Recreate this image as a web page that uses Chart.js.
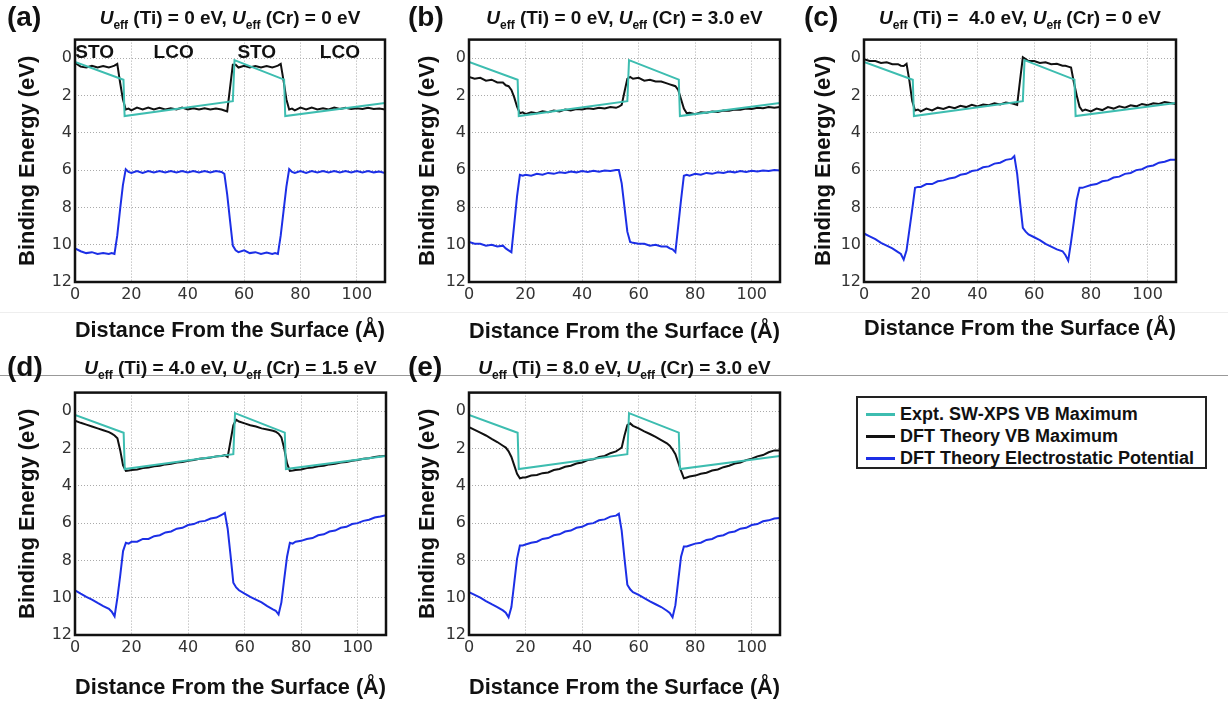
<!DOCTYPE html>
<html>
<head>
<meta charset="utf-8">
<script src="https://cdn.jsdelivr.net/npm/chart.js@4.4.0/dist/chart.umd.min.js"></script>
<style>
  body { margin: 0; background: #fff; }
  #fig { position: relative; width: 1228px; height: 706px; overflow: hidden; font-family: 'Liberation Sans', Arial, sans-serif; color: #111; }
  .title { position: absolute; text-align: center; font-weight: bold; font-size: 19px; line-height: 22px; white-space: nowrap; }
  .title sub { font-size: 12px; vertical-align: baseline; position: relative; top: 5px; }
  .letter { position: absolute; font-weight: bold; font-size: 28px; line-height: 32px; }
  .rule { position: absolute; left: 0; width: 1228px; height: 1px; }
  #legend { position: absolute; left: 856px; top: 396px; width: 351px; height: 73px; border: 2px solid #222; box-sizing: border-box; }
  .row { position: absolute; left: 0; height: 22px; line-height: 22px; font-weight: bold; font-size: 18px; white-space: nowrap; }
  .row span.sw { position: absolute; left: 8px; top: 10px; width: 29px; height: 3px; }
  .row span.tx { position: absolute; left: 42px; top: 0; }
</style>
</head>
<body>
<div id="fig">
  <div class="rule" style="top:312px;background:#eee"></div>
  <div class="rule" style="top:375px;background:#999"></div>
  <div id="legend"></div>
</div>
<script>
// x grid (Å) shared by the DFT curves
const xDft = [0, 2, 4, 6, 8, 10, 12,
  13, 14, 15, 16, 17, 18, 19,
  20, 22, 24, 26, 28, 30, 32, 34, 36, 38, 40, 42, 44, 46, 48, 50, 52,
  53, 54, 55, 56, 57,
  58, 60, 62, 64, 66, 68, 70,
  71, 72, 73, 74, 75, 76, 77,
  78, 80, 82, 84, 86, 88, 90, 92, 94, 96, 98, 100, 102, 104, 106, 108, 110];

// experimental SW-XPS VB maximum (same in every panel)
const expX = [0, 17.2, 17.6, 56, 56.6, 74.2, 74.6, 110];
const expY = [0.2, 1.15, 3.1, 2.3, 0.1, 1.15, 3.1, 2.4];

// (a) Ti 0 / Cr 0
const vbA = [0.25, 0.45, 0.5, 0.4, 0.5, 0.42, 0.5,
  0.45, 0.4, 0.3, 1.3, 2.2, 2.75, 2.7,
  2.8, 2.65, 2.75, 2.65, 2.75, 2.66, 2.75, 2.68, 2.75, 2.65, 2.75, 2.68, 2.75, 2.68, 2.75, 2.7, 2.75,
  2.8, 2.85, 1.6, 0.35, 0.35,
  0.5, 0.4, 0.5, 0.42, 0.5, 0.42, 0.5,
  0.45, 0.4, 0.3, 1.2, 2.2, 2.75, 2.7,
  2.8, 2.65, 2.75, 2.65, 2.75, 2.68, 2.75, 2.65, 2.72, 2.65, 2.72, 2.68, 2.72, 2.66, 2.72, 2.7, 2.75];
const potA = [10.2, 10.35, 10.45, 10.4, 10.5, 10.45, 10.5,
  10.45, 10.5, 9.5, 8.1, 6.8, 5.95, 6.1,
  6.15, 6.05, 6.15, 6.05, 6.12, 6.05, 6.12, 6.05, 6.12, 6.05, 6.12, 6.05, 6.12, 6.05, 6.12, 6.05, 6.1,
  6.2, 7.3, 8.7, 10.05, 10.3,
  10.4, 10.3, 10.45, 10.4, 10.5, 10.42, 10.5,
  10.45, 10.5, 9.5, 8.2, 6.9, 5.95, 6.1,
  6.15, 6.05, 6.15, 6.05, 6.12, 6.05, 6.12, 6.05, 6.12, 6.05, 6.12, 6.05, 6.12, 6.05, 6.12, 6.08, 6.15];

// (b) Ti 0 / Cr 3.0
const vbB = [1.0, 1.1, 1.05, 1.2, 1.15, 1.3, 1.3,
  1.45, 1.5, 1.7, 2.1, 2.6, 2.95, 2.9,
  3.0, 2.9, 2.95, 2.85, 2.9, 2.8, 2.85, 2.75, 2.8, 2.72, 2.75, 2.68, 2.72, 2.65, 2.7, 2.62, 2.66,
  2.6, 2.5, 1.8, 1.1, 1.0,
  1.1, 1.05, 1.2, 1.15, 1.25, 1.25, 1.35,
  1.4, 1.45, 1.5, 1.7, 2.2, 2.7, 2.95,
  2.92, 3.0, 2.9, 2.92, 2.85, 2.88, 2.8, 2.82, 2.75, 2.76, 2.7, 2.72, 2.65, 2.68, 2.62, 2.66, 2.62];
const potB = [9.85, 9.95, 9.95, 10.05, 10.0, 10.1, 10.05,
  10.2, 10.3, 10.4, 8.9, 7.4, 6.25, 6.3,
  6.25, 6.3, 6.2, 6.25, 6.15, 6.2, 6.12, 6.15, 6.08, 6.12, 6.05, 6.1, 6.03, 6.08, 6.02, 6.05, 6.0,
  6.0, 6.7, 8.0, 9.3, 9.85,
  9.9, 9.95, 9.95, 10.05, 10.0, 10.1, 10.1,
  10.2, 10.25, 10.4, 9.0, 7.6, 6.3, 6.25,
  6.3, 6.2, 6.25, 6.15, 6.2, 6.12, 6.15, 6.08, 6.12, 6.05, 6.1, 6.03, 6.07, 6.02, 6.05, 6.0, 6.02];

// (c) Ti 4.0 / Cr 0
const vbC = [0.05, 0.15, 0.15, 0.25, 0.22, 0.32, 0.32,
  0.4, 0.42, 0.3, 1.2, 2.3, 2.8, 2.75,
  2.85, 2.7, 2.8, 2.65, 2.72, 2.6, 2.68, 2.55, 2.62, 2.5, 2.58, 2.48, 2.52, 2.42, 2.48, 2.38, 2.42,
  2.45, 2.5, 1.2, -0.05, 0.05,
  0.15, 0.15, 0.25, 0.22, 0.32, 0.3, 0.4,
  0.4, 0.45, 0.5, 1.3, 2.0, 2.6, 2.82,
  2.75, 2.85, 2.7, 2.78, 2.62, 2.7, 2.58, 2.65, 2.52, 2.58, 2.45, 2.52, 2.42, 2.45, 2.35, 2.4, 2.45];
const potC = [9.4, 9.55, 9.7, 9.9, 10.05, 10.2, 10.4,
  10.5, 10.8, 10.3, 9.2, 8.1, 6.95, 6.9,
  6.9, 6.75, 6.75, 6.6, 6.55, 6.45, 6.4, 6.25, 6.2, 6.05, 6.0, 5.85, 5.8, 5.65, 5.6, 5.45, 5.4,
  5.25, 6.2, 7.7, 9.1, 9.3,
  9.45, 9.6, 9.75, 9.95, 10.1, 10.25, 10.35,
  10.55, 10.85, 9.85, 8.75, 7.6, 6.95, 6.95,
  6.9, 6.8, 6.75, 6.6, 6.55, 6.4, 6.35, 6.2, 6.15, 6.0, 5.95, 5.8, 5.75, 5.6, 5.55, 5.45, 5.45];

// (d) Ti 4.0 / Cr 1.5
const vbD = [0.5, 0.62, 0.72, 0.82, 0.92, 1.02, 1.12,
  1.2, 1.3, 1.45, 2.1, 2.9, 3.2, 3.18,
  3.15, 3.12, 3.05, 3.02, 2.95, 2.92, 2.85, 2.82, 2.75, 2.72, 2.65, 2.62, 2.55, 2.52, 2.48, 2.42, 2.4,
  2.35, 2.45, 1.6, 0.75, 0.45,
  0.55, 0.65, 0.75, 0.82, 0.92, 0.98, 1.05,
  1.1, 1.2, 1.4, 2.0, 2.8, 3.2, 3.18,
  3.15, 3.12, 3.05, 3.02, 2.95, 2.92, 2.85, 2.82, 2.75, 2.72, 2.65, 2.62, 2.55, 2.52, 2.45, 2.42, 2.38];
const potD = [9.6, 9.78, 9.95, 10.1, 10.28, 10.45, 10.6,
  10.75, 11.0, 10.0, 8.8, 7.5, 7.05, 7.1,
  7.0, 7.0, 6.85, 6.85, 6.7, 6.65, 6.5, 6.45, 6.3, 6.25, 6.1, 6.05, 5.92, 5.88, 5.75, 5.7, 5.55,
  5.45, 6.3, 7.7, 9.2, 9.45,
  9.6, 9.78, 9.95, 10.1, 10.25, 10.45, 10.62,
  10.7, 10.9, 10.25, 9.0, 7.8, 7.05, 7.1,
  7.0, 6.95, 6.85, 6.8, 6.65, 6.6, 6.45, 6.4, 6.25, 6.2, 6.05, 6.0, 5.88, 5.82, 5.7, 5.65, 5.58];

// (e) Ti 8.0 / Cr 3.0
const vbE = [0.85, 1.0, 1.15, 1.3, 1.48, 1.65, 1.85,
  1.95, 2.15, 2.45, 2.9, 3.35, 3.6, 3.55,
  3.55, 3.45, 3.42, 3.32, 3.28, 3.15, 3.1, 2.98, 2.92, 2.8, 2.75, 2.62, 2.58, 2.45, 2.4, 2.25, 2.15,
  2.05, 1.95, 1.3, 0.75, 0.65,
  0.78, 0.92, 1.08, 1.22, 1.38, 1.55, 1.72,
  1.85, 2.05, 2.3, 2.75, 3.2, 3.6, 3.55,
  3.5, 3.45, 3.35, 3.3, 3.18, 3.12, 3.0, 2.92, 2.8, 2.75, 2.62, 2.55, 2.42, 2.35, 2.2, 2.1, 2.1];
const potE = [9.7, 9.85, 10.0, 10.18, 10.35, 10.5, 10.68,
  10.8, 11.05, 10.5, 9.2, 7.9, 7.2, 7.2,
  7.15, 7.05, 7.0, 6.85, 6.8, 6.65, 6.6, 6.45, 6.4, 6.25, 6.2, 6.05, 6.0, 5.85, 5.8, 5.65, 5.6,
  5.5, 6.4, 7.9, 9.3, 9.55,
  9.7, 9.85, 10.02, 10.2, 10.35, 10.5, 10.7,
  10.82, 11.05, 10.4, 9.1, 7.8, 7.25, 7.25,
  7.2, 7.1, 7.05, 6.9, 6.85, 6.7, 6.65, 6.5, 6.45, 6.3, 6.25, 6.1, 6.05, 5.9, 5.85, 5.75, 5.72];

const seriesNames = ['Expt. SW-XPS VB Maximum', 'DFT Theory VB Maximum', 'DFT Theory Electrostatic Potential'];
const layerNames = ['STO', 'LCO', 'STO', 'LCO'];
const layerX = [7, 35, 64.5, 94];

const TEAL = '#3dbdb0', BLACK = '#111111', BLUE = '#1c2fe6';
const colors = [TEAL, BLACK, BLUE];

const panels = [
  { tag: '(a)', ti: '0', cr: '0', vb: vbA, pot: potA, L: 75, T: 39, R: 385, B: 282, ytPad: 10, xtPad: 4, letterX: 7, layers: true },
  { tag: '(b)', ti: '0', cr: '3.0', vb: vbB, pot: potB, L: 469, T: 39, R: 780, B: 282, ytPad: 16, xtPad: 3, letterX: 408 },
  { tag: '(c)', ti: '&nbsp;4.0', cr: '0', vb: vbC, pot: potC, L: 864, T: 39, R: 1176, B: 282, ytPad: 17, xtPad: 6, letterX: 804 },
  { tag: '(d)', ti: '4.0', cr: '1.5', vb: vbD, pot: potD, L: 75, T: 392, R: 386, B: 635, ytPad: 10, xtPad: 0, letterX: 7 },
  { tag: '(e)', ti: '8.0', cr: '3.0', vb: vbE, pot: potE, L: 469, T: 392, R: 780, B: 635, ytPad: 16, xtPad: 0, letterX: 408 }
];

const fig = document.getElementById('fig');

function pts(xs, ys) {
  return xs.map((x, i) => ({ x: x, y: ys[i] }));
}

// black frame round each axes box
const frame = {
  id: 'frame',
  afterDatasetsDraw(chart) {
    const { ctx, chartArea: a } = chart;
    ctx.save();
    ctx.strokeStyle = '#111';
    ctx.lineWidth = 2.5;
    ctx.strokeRect(a.left, a.top, a.right - a.left, a.bottom - a.top);
    ctx.restore();
  }
};

// STO / LCO labels in panel (a)
const layerText = {
  id: 'layerText',
  afterDatasetsDraw(chart, args, opts) {
    if (!opts.show) return;
    const { ctx, scales: { x, y } } = chart;
    ctx.save();
    ctx.font = 'bold 19px "Liberation Sans", Arial, sans-serif';
    ctx.fillStyle = '#111';
    ctx.textAlign = 'center';
    ctx.textBaseline = 'middle';
    layerNames.forEach((t, i) => ctx.fillText(t, x.getPixelForValue(layerX[i]), y.getPixelForValue(-0.3)));
    ctx.restore();
  }
};

const tickFont = { family: 'DejaVu Sans', size: 16 };
const axisFont = { family: 'Liberation Sans', size: 22, weight: 'bold' };

panels.forEach(p => {
  const W = p.R - p.L + 70 + 12, H = p.B - p.T + 12 + 66;
  const cv = document.createElement('canvas');
  cv.width = W; cv.height = H;
  cv.style.cssText = 'position:absolute;left:' + (p.L - 70) + 'px;top:' + (p.T - 12) + 'px;width:' + W + 'px;height:' + H + 'px';
  fig.appendChild(cv);

  const mid = p.T < 200 ? 18 : 368;
  const title = document.createElement('div');
  title.className = 'title';
  title.style.cssText = 'left:' + p.L + 'px;width:' + (p.R - p.L) + 'px;top:' + (mid - 11) + 'px';
  title.innerHTML = '<i>U</i><sub>eff</sub> (Ti) = ' + p.ti + ' eV, <i>U</i><sub>eff</sub> (Cr) = ' + p.cr + ' eV';
  fig.appendChild(title);

  const letter = document.createElement('div');
  letter.className = 'letter';
  letter.style.cssText = 'left:' + p.letterX + 'px;top:' + (mid - 17) + 'px';
  letter.textContent = p.tag;
  fig.appendChild(letter);

  new Chart(cv, {
    type: 'line',
    data: {
      datasets: [
        { label: seriesNames[0], data: pts(expX, expY), borderColor: TEAL },
        { label: seriesNames[1], data: pts(xDft, p.vb), borderColor: BLACK },
        { label: seriesNames[2], data: pts(xDft, p.pot), borderColor: BLUE }
      ]
    },
    options: {
      responsive: false,
      animation: false,
      devicePixelRatio: 1,
      layout: { padding: { left: 0, top: 12, right: 12, bottom: 0 } },
      elements: { point: { radius: 0 }, line: { borderWidth: 2, tension: 0 } },
      plugins: {
        legend: { display: false },
        tooltip: { enabled: false },
        layerText: { show: !!p.layers }
      },
      scales: {
        x: {
          type: 'linear', min: 0, max: 110,
          ticks: { stepSize: 20, includeBounds: false, padding: 3, color: '#333', font: tickFont },
          grid: { color: '#aaa', lineWidth: 1, drawTicks: false },
          border: { display: false, dash: [1, 2] },
          title: { display: true, text: 'Distance From the Surface (Å)', color: '#111', font: axisFont, padding: { top: 0, bottom: p.xtPad } },
          afterFit: s => { s.height = 66; }
        },
        y: {
          type: 'linear', reverse: true, min: -1, max: 12,
          ticks: { stepSize: 2, includeBounds: false, padding: 3, color: '#333', font: tickFont },
          grid: { color: '#aaa', lineWidth: 1, drawTicks: false },
          border: { display: false, dash: [1, 2] },
          title: { display: true, text: 'Binding Energy (eV)', color: '#111', font: axisFont, padding: { top: p.ytPad, bottom: 0 } },
          afterFit: s => { s.width = 70; }
        }
      }
    },
    plugins: [frame, layerText]
  });
});

// legend
const legend = document.getElementById('legend');
seriesNames.forEach((name, i) => {
  const row = document.createElement('div');
  row.className = 'row';
  row.style.top = (5 + i * 22) + 'px';
  row.innerHTML = '<span class="sw" style="background:' + colors[i] + '"></span><span class="tx">' + name + '</span>';
  legend.appendChild(row);
});
</script>
</body>
</html>
